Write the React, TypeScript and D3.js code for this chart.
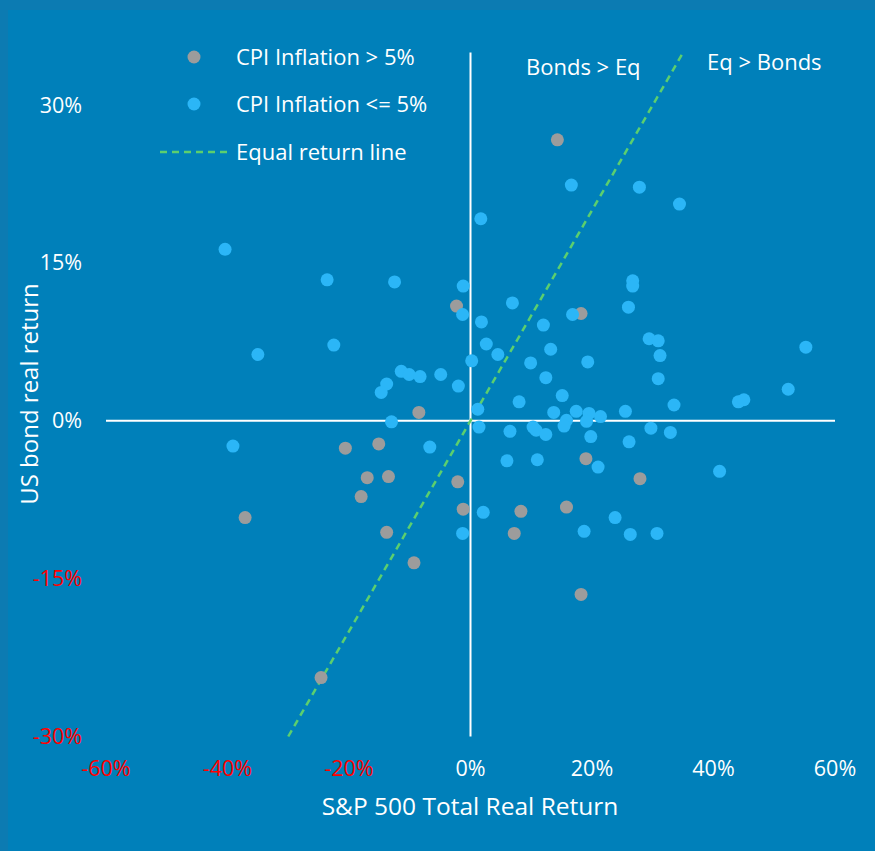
import * as d3 from "d3";

// CPI > 5% years: [S&P 500 real return %, US bond real return %]
const highInflation: [number, number][] = [
  [-2.3, 10.9], [18.2, 10.2], [14.3, 26.7], [19.0, -3.6], [27.9, -5.5],
  [-2.1, -5.8], [-1.2, -8.4], [8.3, -8.6], [15.8, -8.2], [7.2, -10.7],
  [18.2, -16.5], [-8.5, 0.8], [-20.6, -2.6], [-15.1, -2.2], [-17.0, -5.4],
  [-13.5, -5.3], [-18.0, -7.2], [-37.1, -9.2], [-13.8, -10.6], [-9.3, -13.5],
  [-24.6, -24.4],
];

// CPI <= 5% years
const lowInflation: [number, number][] = [
  [1.7, 19.2], [-1.2, 12.8], [-1.3, 10.1], [6.9, 11.2], [1.8, 9.4],
  [2.6, 7.3], [4.5, 6.3], [0.2, 5.7], [12.0, 9.1], [16.8, 10.1],
  [26.7, 13.3], [26.7, 12.8], [26.0, 10.8], [13.2, 6.8], [9.9, 5.5],
  [19.3, 5.6], [29.4, 7.8], [30.9, 7.6], [31.2, 6.2], [30.9, 4.0],
  [55.2, 7.0], [52.3, 3.0], [44.1, 1.8], [45.0, 2.0], [33.5, 1.5],
  [-4.9, 4.4], [-2.0, 3.3], [12.4, 4.1], [15.1, 2.4], [8.0, 1.8],
  [1.2, 1.1], [13.7, 0.8], [17.4, 0.9], [19.5, 0.7], [21.4, 0.4],
  [25.5, 0.9], [15.8, 0.05], [19.1, -0.05], [1.4, -0.6], [6.5, -1.0],
  [10.3, -0.6], [10.8, -0.9], [12.4, -1.3], [15.4, -0.5], [19.8, -1.5],
  [26.1, -2.0], [29.7, -0.7], [32.9, -1.1], [6.0, -3.8], [11.0, -3.7],
  [21.0, -4.4], [41.0, -4.8], [2.1, -8.7], [23.8, -9.2], [-1.3, -10.7],
  [18.7, -10.5], [26.3, -10.8], [30.7, -10.7], [-13.0, -0.1], [-39.1, -2.4],
  [-6.7, -2.5], [-40.4, 16.3], [-23.6, 13.4], [-12.5, 13.2], [-35.0, 6.3],
  [-22.5, 7.2], [-11.4, 4.7], [-10.1, 4.4], [-8.3, 4.2], [-13.8, 3.5],
  [-14.7, 2.7], [16.6, 22.4], [27.8, 22.2], [34.4, 20.6],
];

const xTicks = [-60, -40, -20, 0, 20, 40, 60];
const yTicks = [-30, -15, 0, 15, 30];
const equalLine = [-30, 35]; // y = x, from / to

const W = 875;
const H = 851;
const FONT = "'Open Sans', sans-serif";
const BG = "#0080ba";
const BLUE = "#2bb6f7";
const GREY = "#9c9c9c";
const GREEN = "#5ccf6e";

export default function App() {
  const x = d3.scaleLinear().domain([-60, 60]).range([106, 835]);
  const y = d3.scaleLinear().domain([-30, 35]).range([736.5, 52.5]);
  const pct = (v: number) => `${v}%`;
  const tickColor = (v: number) => (v < 0 ? "#ff0000" : "#ffffff");

  return (
    <svg width={W} height={H} style={{ position: "absolute", left: 0, top: 0 }} fontFamily={FONT}>
      <rect width={W} height={H} fill="#0c7bb2" />
      <rect x={8} y={10} width={W - 8} height={H - 10} fill={BG} />

      {/* axes through zero */}
      <line x1={x(-60)} x2={x(60)} y1={y(0)} y2={y(0)} stroke="#fff" strokeWidth={2} />
      <line x1={x(0)} x2={x(0)} y1={y(-30)} y2={y(35)} stroke="#fff" strokeWidth={2} />

      {/* equal return line */}
      <line
        x1={x(equalLine[0])}
        y1={y(equalLine[0])}
        x2={x(equalLine[1])}
        y2={y(equalLine[1])}
        stroke={GREEN}
        strokeWidth={2.5}
        strokeDasharray="7 5"
      />

      {highInflation.map((d, i) => (
        <circle key={"h" + i} cx={x(d[0])} cy={y(d[1])} r={6.5} fill={GREY} />
      ))}
      {lowInflation.map((d, i) => (
        <circle key={"l" + i} cx={x(d[0])} cy={y(d[1])} r={6.5} fill={BLUE} />
      ))}

      {yTicks.map((t) => (
        <text key={"y" + t} x={82} y={y(t)} dy="0.35em" textAnchor="end" fontSize={21.5} fill={tickColor(t)}>
          {pct(t)}
        </text>
      ))}
      {xTicks.map((t) => (
        <text key={"x" + t} x={x(t)} y={768} dy="0.35em" textAnchor="middle" fontSize={21.5} fill={tickColor(t)}>
          {pct(t)}
        </text>
      ))}

      <text x={470} y={815} textAnchor="middle" fontSize={24.5} fill="#fff">
        S&amp;P 500 Total Real Return
      </text>
      <text transform="translate(38,394) rotate(-90)" textAnchor="middle" fontSize={24} fill="#fff">
        US bond real return
      </text>

      <text x={526} y={75} fontSize={22} fill="#fff">Bonds &gt; Eq</text>
      <text x={707} y={70} fontSize={22} fill="#fff">Eq &gt; Bonds</text>

      {/* legend */}
      <circle cx={194} cy={57} r={6.5} fill={GREY} />
      <text x={236} y={65} fontSize={22} fill="#fff">CPI Inflation &gt; 5%</text>
      <circle cx={194} cy={104} r={6.5} fill={BLUE} />
      <text x={236} y={112} fontSize={22} fill="#fff">CPI Inflation &lt;= 5%</text>
      <line x1={160} x2={229} y1={152} y2={152} stroke={GREEN} strokeWidth={2.5} strokeDasharray="7 5" />
      <text x={236} y={160} fontSize={22} fill="#fff">Equal return line</text>
    </svg>
  );
}
